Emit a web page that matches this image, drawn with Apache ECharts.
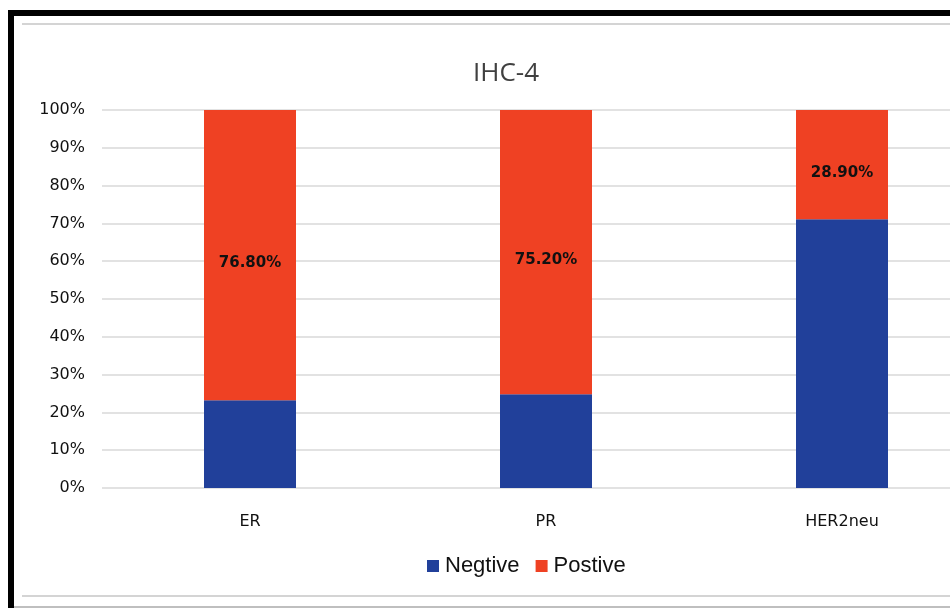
<!DOCTYPE html>
<html><head><meta charset="utf-8">
<script src="https://cdn.jsdelivr.net/npm/echarts@6/dist/echarts.min.js"></script>
<style>html,body{margin:0;padding:0;background:#fff}#c{width:950px;height:608px}</style>
</head><body><div id="c"></div>
<script>
const categories = ['ER', 'PR', 'HER2neu'];
const negative = [23.2, 24.8, 71.1];
const positive = [76.8, 75.2, 28.9];
const yTicks = ['0%','10%','20%','30%','40%','50%','60%','70%','80%','90%','100%'];

const chart = echarts.init(document.getElementById('c'));
chart.setOption({
  animation: false,
  backgroundColor: '#fff',
  title: {
    text: 'IHC-4', left: 501, top: 56, textAlign: 'center',
    textStyle: {fontFamily: 'Open Sans, sans-serif', fontSize: 26, fontWeight: 'normal', color: '#404040'}
  },
  legend: {
    data: ['Negtive', 'Postive'], top: 550, left: 422, itemWidth: 12, itemHeight: 12, itemGap: 16,
    icon: 'rect',
    textStyle: {fontFamily: 'Liberation Sans, Arial, sans-serif', fontSize: 22, color: '#111', padding: [0, 0, 0, 1]}
  },
  grid: {left: 102, width: 888, top: 110, bottom: 120, outerBoundsMode: 'none', containLabel: false},
  xAxis: {
    type: 'category', data: categories,
    axisLine: {show: false}, axisTick: {show: false},
    axisLabel: {margin: 26, fontFamily: 'DejaVu Sans, sans-serif', fontSize: 16, color: '#111'}
  },
  yAxis: {
    type: 'value', min: 0, max: 100, interval: 10,
    axisLabel: {
      margin: 17, fontFamily: 'DejaVu Sans, sans-serif', fontSize: 16, color: '#111',
      formatter: v => yTicks[Math.round(v / 10)]
    },
    splitLine: {lineStyle: {color: '#d9d9d9', width: 1.5}},
    axisLine: {show: false}, axisTick: {show: false}
  },
  series: [
    {name: 'Negtive', type: 'bar', stack: 's', data: negative, barWidth: 92,
     itemStyle: {color: '#21409a'}},
    {name: 'Postive', type: 'bar', stack: 's', data: positive, barWidth: 92,
     itemStyle: {color: '#ef4123'},
     label: {show: true, position: 'inside', offset: [0, 8],
       formatter: p => p.value.toFixed(2) + '%',
       fontFamily: 'DejaVu Sans, sans-serif', fontSize: 15, fontWeight: 'bold', color: '#111'}}
  ],
  graphic: [
    {type: 'line', shape: {x1: 8, y1: 13, x2: 950, y2: 13}, style: {stroke: '#000', lineWidth: 6}, z: 100},
    {type: 'line', shape: {x1: 11, y1: 10, x2: 11, y2: 608}, style: {stroke: '#000', lineWidth: 6}, z: 100},
    {type: 'line', shape: {x1: 14, y1: 607, x2: 950, y2: 607}, style: {stroke: '#aaa', lineWidth: 1.5}, z: 100},
    {type: 'line', shape: {x1: 22, y1: 24, x2: 950, y2: 24}, style: {stroke: '#d4d4d4', lineWidth: 2}},
    {type: 'line', shape: {x1: 22, y1: 596, x2: 950, y2: 596}, style: {stroke: '#d4d4d4', lineWidth: 2}}
  ]
});
</script></body></html>
